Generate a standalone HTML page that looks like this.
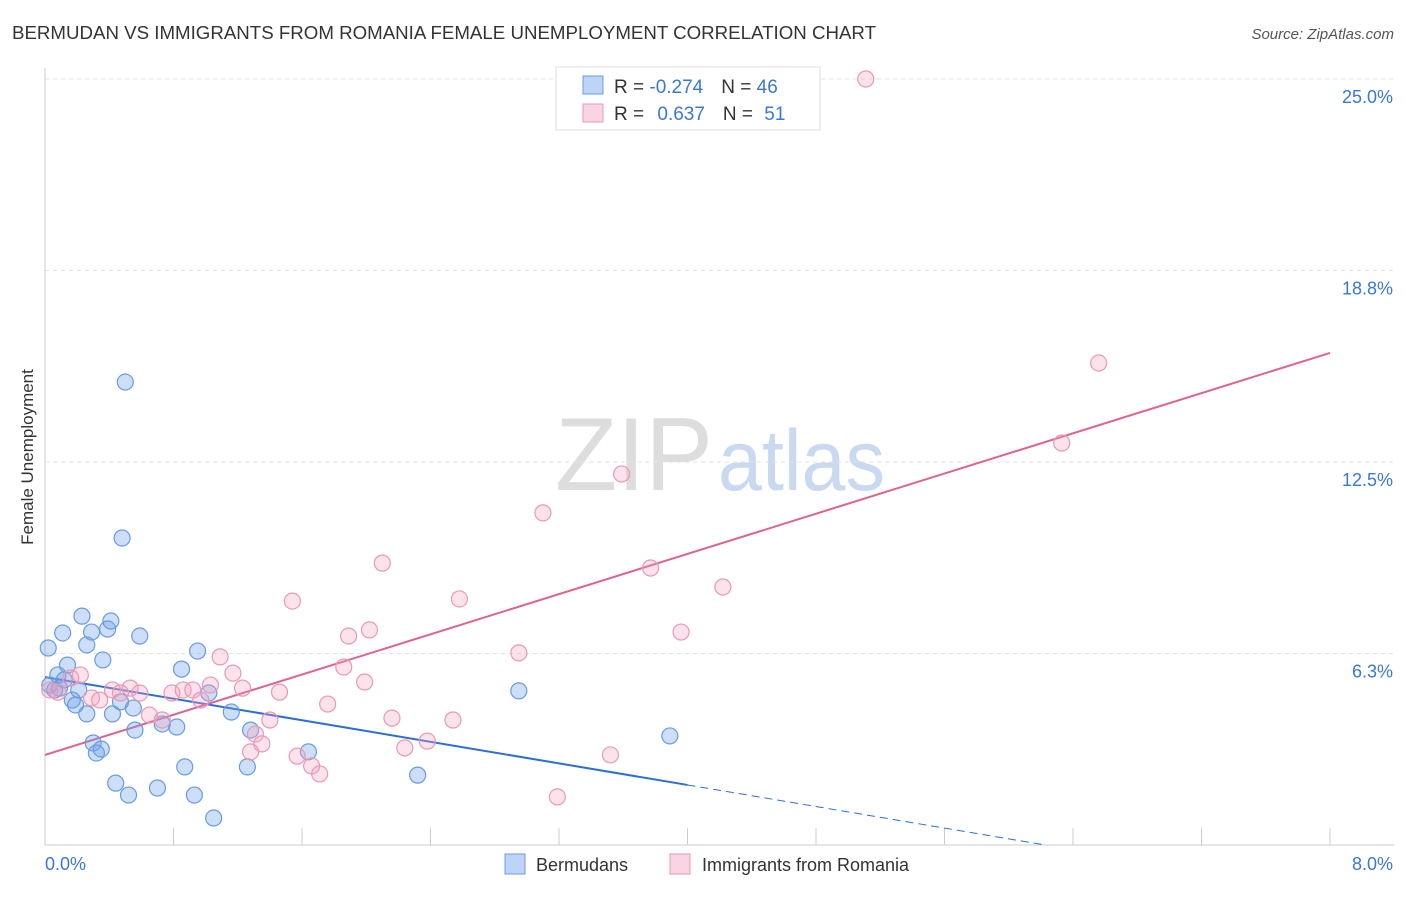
<!DOCTYPE html>
<html><head><meta charset="utf-8"><style>
body{margin:0;background:#fff;font-family:"Liberation Sans",sans-serif;}
svg text{font-family:"Liberation Sans",sans-serif;}
</style></head><body>
<svg id="chart" width="1406" height="892" viewBox="0 0 1406 892">
<text x="12" y="39" font-size="18" fill="#333" textLength="864" lengthAdjust="spacingAndGlyphs">BERMUDAN VS IMMIGRANTS FROM ROMANIA FEMALE UNEMPLOYMENT CORRELATION CHART</text>
<text x="1394" y="39" font-size="15" fill="#555" text-anchor="end" font-style="italic">Source: ZipAtlas.com</text>
<text x="555" y="490" font-size="104" fill="#ddd" font-family="Liberation Serif" textLength="158" lengthAdjust="spacingAndGlyphs">ZIP</text>
<text x="718" y="490" font-size="86" fill="#c9d9f0" textLength="167" lengthAdjust="spacingAndGlyphs">atlas</text>
<g id="grid"></g>
<g id="axes"></g>
<g id="trends"></g>
<g id="points"></g>
<text transform="translate(33,457) rotate(-90)" font-size="17" fill="#333" text-anchor="middle">Female Unemployment</text>
<g>
<rect x="556" y="67" width="264" height="63" fill="#fff" stroke="#ddd"/>
<rect x="583" y="76" width="20" height="18" fill="rgba(110,160,235,0.45)" stroke="#6a9be0"/>
<rect x="583" y="104" width="20" height="18" fill="rgba(245,160,190,0.45)" stroke="#e899b4"/>
<text x="614" y="93" font-size="19" fill="#333">R = <tspan fill="#3a78d6">-0.274</tspan><tspan dx="18">N = </tspan><tspan fill="#3a78d6">46</tspan></text>
<text x="614" y="120" font-size="19" fill="#333">R = <tspan fill="#3a78d6" dx="8">0.637</tspan><tspan dx="18">N = </tspan><tspan fill="#3a78d6" dx="6">51</tspan></text>
</g>
<g>
<rect x="505" y="854" width="20" height="20" fill="rgba(110,160,235,0.45)" stroke="#6a9be0"/>
<text x="536" y="871" font-size="18" fill="#333">Bermudans</text>
<rect x="670" y="854" width="20" height="20" fill="rgba(245,160,190,0.45)" stroke="#e899b4"/>
<text x="702" y="871" font-size="18" fill="#333">Immigrants from Romania</text>
</g>
</svg>
<script>
const yTicks=[25.0,18.8,12.5,6.3];
const yTickValues=[25,18.75,12.5,6.25];
const xTickLabels=["0.0%","8.0%"];
const blueX=[0.02,0.06,0.08,0.11,0.14,0.17,0.19,0.21,0.23,0.26,0.26,0.29,0.30,0.32,0.35,0.36,0.39,0.41,0.42,0.44,0.47,0.48,0.50,0.52,0.55,0.56,0.59,0.70,0.73,0.82,0.85,0.87,0.93,0.95,1.02,1.05,1.16,1.28,1.26,1.64,2.32,2.95,3.89,0.09,0.03,0.12];
const blueY=[6.43,5.06,5.55,6.92,5.87,4.73,4.57,5.06,7.47,6.53,4.28,6.95,3.33,3.00,3.13,6.04,7.05,7.31,4.28,2.02,4.67,10.02,15.11,1.63,4.47,3.75,6.82,1.86,3.95,3.85,5.74,2.55,1.63,6.33,4.96,0.88,4.34,3.75,2.55,3.04,2.28,5.03,3.56,5.12,5.22,5.39];
const pinkX=[0.03,0.08,0.16,0.22,0.29,0.34,0.42,0.47,0.53,0.59,0.65,0.73,0.79,0.86,0.92,0.97,1.03,1.09,1.17,1.23,1.28,1.31,1.35,1.40,1.46,1.54,1.57,1.66,1.71,1.76,1.86,1.89,1.99,2.02,2.10,2.16,2.24,2.38,2.54,2.58,2.95,3.10,3.19,3.52,3.59,3.77,3.96,4.22,5.11,6.33,6.56];
const pinkY=[5.06,4.99,5.45,5.55,4.80,4.73,5.06,4.96,5.12,4.96,4.24,4.08,4.96,5.06,5.06,4.73,5.22,6.14,5.61,5.12,3.04,3.62,3.30,4.08,4.99,7.96,2.90,2.58,2.32,4.60,5.81,6.82,5.32,7.02,9.20,4.14,3.17,3.39,4.08,8.03,6.27,10.84,1.57,2.94,12.11,9.04,6.95,8.42,25.0,13.12,15.73];
const blueTrend=[5.48,-0.88];
const pinkTrend=[2.94,1.64];
const NS="http://www.w3.org/2000/svg";
const sx=v=>45+v*(1330-45)/8;
const sy=v=>845-v*(845-79)/25;
function mk(tag,attrs,parent){const e=document.createElementNS(NS,tag);for(const k in attrs)e.setAttribute(k,attrs[k]);parent.appendChild(e);return e;}
const grid=document.getElementById('grid'),axes=document.getElementById('axes'),trends=document.getElementById('trends'),pts=document.getElementById('points');
yTickValues.forEach((v,i)=>{
 const l=mk('line',{x1:45,x2:1394,y1:sy(v),y2:sy(v),stroke:'#e3e3e3','stroke-dasharray':'4,4'},grid);
 
 
 const t=mk('text',{x:1393,y:sy(v)+24,'font-size':18,fill:'#3a78d6','text-anchor':'end'},axes);
 t.textContent=yTicks[i].toFixed(1)+'%';
 
 
});
const ax=mk('line',{x1:45,x2:45,y1:68,y2:845,stroke:'#ccc'},axes);


const bx=mk('line',{x1:45,x2:1394,y1:845,y2:845,stroke:'#ccc'},axes);


for(let i=0;i<=10;i++){
 const t=mk('line',{x1:sx(i*0.8),x2:sx(i*0.8),y1:828,y2:845,stroke:'#ccc'},axes);
 
 
}
[[0,'start',45],[8,'end',1393]].forEach((d,i)=>{
 const t=mk('text',{x:d[2],y:870,'font-size':18,fill:'#3a78d6','text-anchor':d[1]},axes);
 t.textContent=xTickLabels[i];
 
 
});
const bEnd=4.0, bZero=-blueTrend[0]/blueTrend[1];
const b1=mk('line',{x1:sx(0),y1:sy(blueTrend[0]),x2:sx(bEnd),y2:sy(blueTrend[0]+blueTrend[1]*bEnd),stroke:'#2b6fd6','stroke-width':2},trends);


const b2=mk('line',{x1:sx(bEnd),y1:sy(blueTrend[0]+blueTrend[1]*bEnd),x2:sx(bZero),y2:sy(0),stroke:'#2b6fd6','stroke-width':1,'stroke-dasharray':'8,5'},trends);


const p1=mk('line',{x1:sx(0),y1:sy(pinkTrend[0]),x2:sx(8),y2:sy(pinkTrend[0]+pinkTrend[1]*8),stroke:'#e0628f','stroke-width':2},trends);


blueX.forEach((x,i)=>{
 const c=mk('circle',{cx:sx(x),cy:sy(blueY[i]),r:8,fill:'rgba(110,160,235,0.35)',stroke:'#6a9be0','stroke-width':1.2},pts);
 
 
});
pinkX.forEach((x,i)=>{
 const c=mk('circle',{cx:sx(x),cy:sy(pinkY[i]),r:8,fill:'rgba(245,160,190,0.3)',stroke:'#e899b4','stroke-width':1.2},pts);
 
 
});
</script>
</body></html>
